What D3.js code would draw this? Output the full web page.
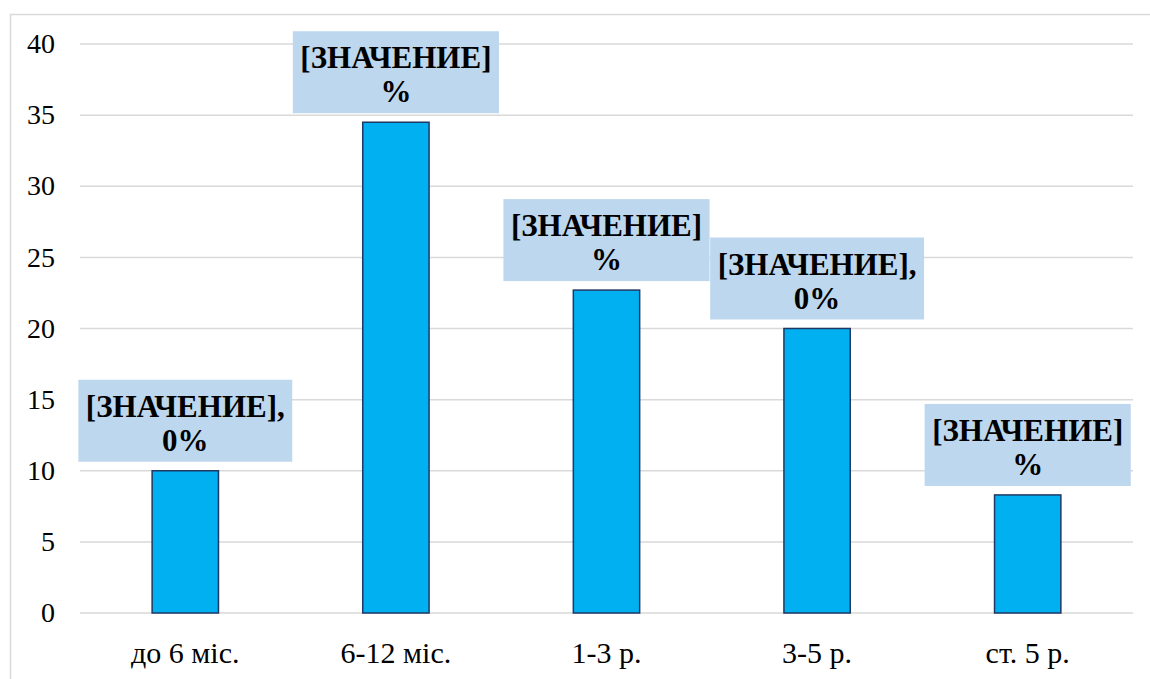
<!DOCTYPE html>
<html>
<head>
<meta charset="utf-8">
<script src="https://cdn.jsdelivr.net/npm/d3@7"></script>
</head>
<body style="margin:0;background:#fff">
<svg id="chart" width="1150" height="679" style="display:block"></svg>
<script>
// Age groups and their shares
const categories = ["до 6 міс.", "6-12 міс.", "1-3 р.", "3-5 р.", "ст. 5 р."];
const values = [10, 34.5, 22.7, 20, 8.3];
// Data label text (two lines each)
const labelLines = [
  ["[ЗНАЧЕНИЕ],", "0%"],
  ["[ЗНАЧЕНИЕ]", "%"],
  ["[ЗНАЧЕНИЕ]", "%"],
  ["[ЗНАЧЕНИЕ],", "0%"],
  ["[ЗНАЧЕНИЕ]", "%"]
];
const yTicks = [0, 5, 10, 15, 20, 25, 30, 35, 40];

const svg = d3.select("#chart");
const W = 1150, H = 679;
const margin = { left: 80, right: 17, top: 44, bottom: 66 };
const serifFamily = "Times New Roman";

// Outer frame (left and top edges)
svg.append("path")
  .attr("d", `M10.5,${H} V14.5 H${W}`)
  .attr("fill", "none")
  .attr("stroke", "#d9d9d9")
  .attr("stroke-width", 1.5);

const x = d3.scaleBand()
  .domain(categories)
  .range([margin.left, W - margin.right])
  .paddingInner(0.685)
  .paddingOuter(0.3425);

const y = d3.scaleLinear()
  .domain([0, 40])
  .range([H - margin.bottom, margin.top]);

// Horizontal gridlines
svg.append("g")
  .selectAll("line")
  .data(yTicks)
  .join("line")
  .attr("x1", margin.left)
  .attr("x2", W - margin.right)
  .attr("y1", d => y(d))
  .attr("y2", d => y(d))
  .attr("stroke", "#d9d9d9")
  .attr("stroke-width", 1.5);

// Y axis labels
const gy = svg.append("g").attr("transform", "translate(55,0)");
gy.selectAll("text")
  .data(yTicks)
  .join("text")
  .attr("x", 0)
  .attr("y", d => y(d))
  .attr("dy", "0.33em")
  .attr("text-anchor", "end")
  .style("font-family", d => serifFamily)
  .style("font-size", "28px")
  .attr("fill", "#000")
  .text(d => d);

// X axis labels
const gx = svg.append("g").attr("transform", `translate(0,${H - margin.bottom})`);
gx.selectAll("text")
  .data(categories)
  .join("text")
  .attr("x", d => x(d) + x.bandwidth() / 2)
  .attr("y", 50)
  .attr("text-anchor", "middle")
  .style("font-family", d => serifFamily)
  .style("font-size", "30px")
  .attr("fill", "#000")
  .text(d => d);

// Bars
svg.append("g")
  .selectAll("rect")
  .data(values)
  .join("rect")
  .attr("x", (d, i) => x(categories[i]))
  .attr("width", x.bandwidth())
  .attr("y", d => y(d))
  .attr("height", d => y(0) - y(d))
  .attr("fill", "#00b0f0")
  .attr("stroke", "#1f3864")
  .attr("stroke-width", 1.5);

// Data labels with light blue boxes
const boxH = 82, gap = 9;
const lbl = svg.append("g")
  .selectAll("g")
  .data(values)
  .join("g")
  .attr("transform", (d, i) => `translate(${x(categories[i]) + x.bandwidth() / 2},${y(d) - gap - boxH})`);

lbl.each(function (d, i) {
  const g = d3.select(this);
  const rect = g.append("rect").attr("fill", "#bdd7ee");
  const t = g.append("text")
    .attr("text-anchor", "middle")
    .style("font-family", serifFamily)
    .style("font-size", "31px")
    .style("font-weight", "bold")
    .attr("fill", "#000");
  labelLines[i].forEach((line, k) => {
    t.append("tspan").attr("x", 0).attr("y", 37 + k * 34).text(line);
  });
  const w = t.node().getBBox().width + 15;
  rect.attr("x", -w / 2).attr("y", 0).attr("width", w).attr("height", boxH);
});
</script>
</body>
</html>
